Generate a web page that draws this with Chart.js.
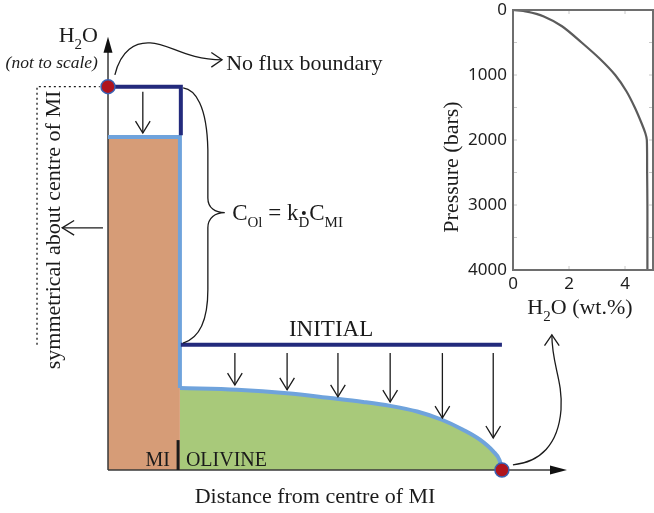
<!DOCTYPE html>
<html>
<head>
<meta charset="utf-8">
<title>H2O loss from melt inclusion</title>
<script src="https://cdn.jsdelivr.net/npm/chart.js"></script>
<style>
  html, body { margin: 0; padding: 0; background: #fff; }
  #wrap { position: relative; width: 654px; height: 513px; overflow: hidden; }
  #mainChart { position: absolute; left: 0; top: 0; }
  #insetChart { position: absolute; left: 430px; top: 0; }
</style>
</head>
<body>
<div id="wrap">
  <canvas id="mainChart" width="654" height="513"></canvas>
  <canvas id="insetChart" width="224" height="330"></canvas>
</div>
<script>
const SERIF = '"Liberation Serif", "Times New Roman", serif';
const SANS = '"Noto Sans", "Liberation Sans", sans-serif';
const INK = '#1b1b1b';

// 1. Sketch data (arbitrary units, not to scale: distance 0-100, H2O 0-100)
const boundaryX = 15.7;        // MI / olivine interface
const rimX = 86.0;             // olivine rim, in contact with the melt
const miInitialH2O = 88.5;
const miFinalH2O = 76.9;
const olInitialH2O = 28.9;
const profileX = [15.7, 28.2, 39.1, 48.5, 55.7, 61.6, 67.5, 72.9, 77.5, 81.2, 84.1, 85.5, 86.0];
const profileH2O = [18.9, 18.5, 17.7, 16.6, 15.7, 14.8, 13.5, 11.6, 9.3, 7.0, 4.3, 2.2, 0];

// arrows showing H2O going down in the olivine
const dropX = [27.7, 39.1, 50.2, 61.6, 73.0, 84.1];
const dropTo = [19.6, 18.5, 16.9, 15.7, 12.0, 7.4];
const dropFrom = 27.0;
const miDropX = 7.6;

// 2. Inset data: H2O solubility vs pressure
const h2oWt = [0, 0.5, 1.1, 1.75, 2.45, 3.1, 3.65, 4.05, 4.35, 4.6, 4.73, 4.78, 4.79, 4.8, 4.8, 4.8];
const pressureBars = [0, 25, 100, 250, 500, 750, 1000, 1250, 1500, 1750, 1900, 2000, 2500, 3000, 3500, 4000];
const pressureTicks = [0, 1000, 2000, 3000, 4000];
const h2oTicks = [0, 2, 4];

// --- drawing helpers ---
function px(chart, x, y) {
  return [chart.scales.x.getPixelForValue(x), chart.scales.y.getPixelForValue(y)];
}

function arrowHead(ctx, tip, angle, len, spread) {
  ctx.beginPath();
  ctx.moveTo(tip[0] - len * Math.cos(angle - spread), tip[1] - len * Math.sin(angle - spread));
  ctx.lineTo(tip[0], tip[1]);
  ctx.lineTo(tip[0] - len * Math.cos(angle + spread), tip[1] - len * Math.sin(angle + spread));
  ctx.stroke();
}

function arrow(ctx, a, b) {
  ctx.beginPath();
  ctx.moveTo(a[0], a[1]);
  ctx.lineTo(b[0], b[1]);
  ctx.stroke();
  arrowHead(ctx, b, Math.atan2(b[1] - a[1], b[0] - a[0]), 14, 0.55);
}

function curvedArrow(ctx, pts) {
  // pts: start, then groups of 3 (c1, c2, end)
  ctx.beginPath();
  ctx.moveTo(pts[0][0], pts[0][1]);
  for (let i = 1; i + 2 < pts.length; i += 3) {
    ctx.bezierCurveTo(pts[i][0], pts[i][1], pts[i + 1][0], pts[i + 1][1], pts[i + 2][0], pts[i + 2][1]);
  }
  ctx.stroke();
  const tip = pts[pts.length - 1], prev = pts[pts.length - 2];
  arrowHead(ctx, tip, Math.atan2(tip[1] - prev[1], tip[0] - prev[0]), 13, 0.6);
}

// parts: [text, isSubscript]
function richText(ctx, parts, x, y, size, align, style) {
  const fontFor = sub => `${style || ''} ${sub ? Math.round(size * 0.66) : size}px ${SERIF}`;
  const widths = parts.map(([t, sub]) => { ctx.font = fontFor(sub); return ctx.measureText(t).width; });
  const total = widths.reduce((a, b) => a + b, 0);
  let cx = align === 'right' ? x - total : align === 'center' ? x - total / 2 : x;
  const starts = [];
  ctx.textAlign = 'left';
  ctx.textBaseline = 'alphabetic';
  parts.forEach(([t, sub], i) => {
    ctx.font = fontFor(sub);
    starts.push([cx, widths[i]]);
    ctx.fillText(t, cx, sub ? y + size * 0.3 : y);
    cx += widths[i];
  });
  return starts;
}

// 3. Notes for the main sketch
const sketchNotes = {
  id: 'sketchNotes',
  afterDatasetDraw(chart, args) {
    // axes sit on top of the coloured fills, under the profiles
    if (chart.data.datasets[args.index].label !== 'MI fill') return;
    const ctx = chart.ctx;
    const o = px(chart, 0, 0);
    const xEnd = px(chart, 100.2, 0);
    const yEnd = px(chart, 0, 100);
    ctx.save();
    ctx.strokeStyle = '#3a3a3a';
    ctx.lineWidth = 1.5;
    ctx.beginPath();
    ctx.moveTo(o[0], o[1]); ctx.lineTo(xEnd[0] - 10, o[1]);
    ctx.moveTo(o[0], o[1]); ctx.lineTo(o[0], yEnd[1] + 10);
    ctx.stroke();
    ctx.fillStyle = '#111';
    ctx.beginPath();
    ctx.moveTo(xEnd[0], o[1]); ctx.lineTo(xEnd[0] - 17, o[1] - 4.5); ctx.lineTo(xEnd[0] - 17, o[1] + 4.5);
    ctx.closePath(); ctx.fill();
    ctx.beginPath();
    ctx.moveTo(o[0], yEnd[1]); ctx.lineTo(o[0] - 4.5, yEnd[1] + 16); ctx.lineTo(o[0] + 4.5, yEnd[1] + 16);
    ctx.closePath(); ctx.fill();
    ctx.restore();
  },
  afterDatasetsDraw(chart) {
    const ctx = chart.ctx;
    const P = (x, y) => px(chart, x, y);
    ctx.save();
    ctx.strokeStyle = INK;
    ctx.fillStyle = INK;
    ctx.lineWidth = 1.3;

    // H2O loss arrows
    dropX.forEach((x, i) => arrow(ctx, P(x, dropFrom), P(x, dropTo[i])));
    arrow(ctx, P(miDropX, 87.3), P(miDropX, 77.8));
    arrow(ctx, P(-1.1, 55.9), P(-10.0, 55.9));

    // symmetry line
    ctx.setLineDash([2, 3]);
    ctx.beginPath();
    const d0 = P(-15.5, olInitialH2O), d1 = P(-15.5, miInitialH2O), d2 = P(-1.8, miInitialH2O);
    ctx.moveTo(d0[0], d0[1]); ctx.lineTo(d1[0], d1[1]); ctx.lineTo(d2[0], d2[1]);
    ctx.stroke();
    ctx.setLineDash([]);

    // MI | olivine marker
    const b0 = P(boundaryX - 0.4, 0), b1 = P(boundaryX - 0.4, 6.9);
    ctx.lineWidth = 3;
    ctx.beginPath(); ctx.moveTo(b0[0], b0[1]); ctx.lineTo(b1[0], b1[1]); ctx.stroke();
    ctx.lineWidth = 1.3;

    // brace for the partition relation
    const br = [[16.4, 88.2], [19.0, 87.8], [21.6, 84.3], [21.8, 73.9], [21.8, 62.8],
      [21.8, 60.5], [23.4, 59.4], [25.5, 59.4], [23.4, 59.4], [21.8, 58.2], [21.8, 55.9],
      [21.8, 41.6], [21.8, 34.6], [20.1, 30.5], [16.4, 29.3]].map(p => P(p[0], p[1]));
    ctx.beginPath();
    ctx.moveTo(br[0][0], br[0][1]);
    ctx.bezierCurveTo(br[1][0], br[1][1], br[2][0], br[2][1], br[3][0], br[3][1]);
    ctx.lineTo(br[4][0], br[4][1]);
    ctx.bezierCurveTo(br[5][0], br[5][1], br[6][0], br[6][1], br[7][0], br[7][1]);
    ctx.bezierCurveTo(br[8][0], br[8][1], br[9][0], br[9][1], br[10][0], br[10][1]);
    ctx.lineTo(br[11][0], br[11][1]);
    ctx.bezierCurveTo(br[12][0], br[12][1], br[13][0], br[13][1], br[14][0], br[14][1]);
    ctx.stroke();

    // curved arrows
    curvedArrow(ctx, [[1.5, 91.2], [2.8, 97.0], [6.0, 98.8], [9.2, 98.6], [13.5, 98.4], [17.0, 94.7], [24.9, 94.7]].map(p => P(p[0], p[1])));
    curvedArrow(ctx, [[88.4, 1.2], [94.3, 1.8], [98.3, 5.8], [98.9, 13.9], [99.3, 20.8], [96.9, 24.2], [96.9, 31.2]].map(p => P(p[0], p[1])));

    // labels
    let p = P(-2.2, 98.8);
    richText(ctx, [['H', false], ['2', true], ['O', false]], p[0], p[1], 22, 'right');
    p = P(-2.2, 92.8);
    richText(ctx, [['(not to scale)', false]], p[0], p[1], 17.5, 'right', 'italic');
    p = P(25.8, 92.4);
    richText(ctx, [['No flux boundary', false]], p[0], p[1], 22, 'left');
    p = P(27.1, 57.7);
    const f = richText(ctx, [['C', false], ['Ol', true], [' = k', false], ['D', true], ['C', false], ['MI', true]], p[0], p[1], 23, 'left');
    ctx.beginPath();
    ctx.arc(f[3][0] + f[3][1] / 2, p[1] - 7, 2, 0, Math.PI * 2);
    ctx.fill();
    p = P(48.7, 30.9);
    richText(ctx, [['INITIAL', false]], p[0], p[1], 23, 'center');
    p = P(13.5, 0.9);
    richText(ctx, [['MI', false]], p[0], p[1], 20, 'right');
    p = P(17.0, 0.9);
    richText(ctx, [['OLIVINE', false]], p[0], p[1], 20, 'left');
    p = P(45.2, -7.6);
    richText(ctx, [['Distance from centre of MI', false]], p[0], p[1], 22, 'center');

    p = P(-11.8, 55.4);
    ctx.save();
    ctx.translate(p[0], p[1]);
    ctx.rotate(-Math.PI / 2);
    ctx.font = `22px ${SERIF}`;
    ctx.textAlign = 'center';
    ctx.textBaseline = 'middle';
    ctx.fillText('symmetrical about centre of MI', 0, 0);
    ctx.restore();

    ctx.restore();
  }
};

// 4. Main sketch
const pts = (xs, ys) => xs.map((x, i) => ({ x: x, y: ys[i] }));
const lineStyle = { showLine: true, pointRadius: 0, fill: false, borderJoinStyle: 'miter', clip: false };

new Chart(document.getElementById('mainChart'), {
  type: 'line',
  data: {
    datasets: [
      {
        label: 'contacts', data: [{ x: 0, y: miInitialH2O }, { x: rimX, y: 0 }],
        showLine: false, pointRadius: 7, backgroundColor: '#b0141d', borderColor: '#3b62b3',
        borderWidth: 1.5, clip: false
      },
      { label: 'initial MI', data: pts([0, boundaryX + 0.2, boundaryX + 0.2], [miInitialH2O, miInitialH2O, miFinalH2O + 0.4]),
        borderColor: '#232a7c', borderWidth: 4, ...lineStyle },
      { label: 'initial olivine', data: pts([boundaryX + 0.2, rimX], [olInitialH2O, olInitialH2O]),
        borderColor: '#232a7c', borderWidth: 4, ...lineStyle },
      { label: 'MI final', data: pts([0, boundaryX, boundaryX], [miFinalH2O, miFinalH2O, profileH2O[0]]),
        borderColor: '#6fa3dc', borderWidth: 4, ...lineStyle },
      { label: 'olivine final', data: pts(profileX, profileH2O),
        borderColor: '#6fa3dc', borderWidth: 4, cubicInterpolationMode: 'monotone', ...lineStyle },
      { label: 'MI fill', data: pts([0, boundaryX], [miFinalH2O, miFinalH2O]),
        showLine: true, pointRadius: 0, borderWidth: 0, fill: 'origin', backgroundColor: '#d69c77' },
      { label: 'olivine fill', data: pts(profileX, profileH2O), cubicInterpolationMode: 'monotone',
        showLine: true, pointRadius: 0, borderWidth: 0, fill: 'origin', backgroundColor: '#a8c97a' }
    ]
  },
  options: {
    responsive: false,
    animation: false,
    layout: { padding: 0, autoPadding: false },
    plugins: { legend: { display: false }, tooltip: { enabled: false } },
    scales: {
      x: { type: 'linear', display: false, min: -23.58, max: 119.2 },
      y: { type: 'linear', display: false, min: -9.93, max: 108.5 }
    }
  },
  plugins: [sketchNotes]
});

// 5. Inset frame, inward ticks and axis titles
const insetFrame = {
  id: 'insetFrame',
  afterDraw(chart) {
    const { ctx, chartArea: a, scales } = chart;
    ctx.save();
    ctx.strokeStyle = '#c8c8c8';
    ctx.lineWidth = 1;
    ctx.beginPath();
    for (let v = 500; v < 4000; v += 500) {
      const y = scales.y.getPixelForValue(v);
      ctx.moveTo(a.left, y); ctx.lineTo(a.left + 4, y);
      ctx.moveTo(a.right, y); ctx.lineTo(a.right - 4, y);
    }
    h2oTicks.slice(1).forEach(v => {
      const x = scales.x.getPixelForValue(v);
      ctx.moveTo(x, a.top); ctx.lineTo(x, a.top + 4);
      ctx.moveTo(x, a.bottom); ctx.lineTo(x, a.bottom - 4);
    });
    ctx.stroke();

    ctx.strokeStyle = '#6e6e6e';
    ctx.lineWidth = 2;
    ctx.strokeRect(a.left, a.top, a.right - a.left, a.bottom - a.top);

    ctx.fillStyle = INK;
    richText(ctx, [['H', false], ['2', true], ['O (wt.%)', false]], (a.left + a.right) / 2 - 3, a.bottom + 44, 22, 'center');

    ctx.translate(22, 167);
    ctx.rotate(-Math.PI / 2);
    ctx.font = `22px ${SERIF}`;
    ctx.textAlign = 'center';
    ctx.textBaseline = 'middle';
    ctx.fillText('Pressure (bars)', 0, 0);
    ctx.restore();
  }
};

// 6. Inset chart
new Chart(document.getElementById('insetChart'), {
  type: 'line',
  data: {
    datasets: [{
      label: 'H2O solubility',
      data: pts(h2oWt, pressureBars),
      borderColor: '#5b5b5b',
      borderWidth: 2.2,
      pointRadius: 0,
      tension: 0.3,
      fill: false
    }]
  },
  options: {
    responsive: false,
    animation: false,
    layout: { padding: { top: 10, right: 1, left: 0, bottom: 0 }, autoPadding: false },
    plugins: { legend: { display: false }, tooltip: { enabled: false } },
    scales: {
      x: {
        type: 'linear', min: 0, max: 5,
        afterBuildTicks: s => { s.ticks = h2oTicks.map(v => ({ value: v })); },
        afterFit: s => { s.height = 60; },
        grid: { display: false, drawTicks: false }, border: { display: false },
        ticks: { font: { family: SANS, size: 17 }, color: '#1e1e1e', padding: 4, maxRotation: 0, callback: v => String(v) }
      },
      y: {
        type: 'linear', reverse: true, min: 0, max: 4000,
        afterBuildTicks: s => { s.ticks = pressureTicks.map(v => ({ value: v })); },
        afterFit: s => { s.width = 83; },
        grid: { display: false, drawTicks: false }, border: { display: false },
        ticks: { font: { family: SANS, size: 17, lineHeight: 0.45 }, color: '#1e1e1e', padding: 6, callback: v => String(v) }
      }
    }
  },
  plugins: [insetFrame]
});
</script>
</body>
</html>
